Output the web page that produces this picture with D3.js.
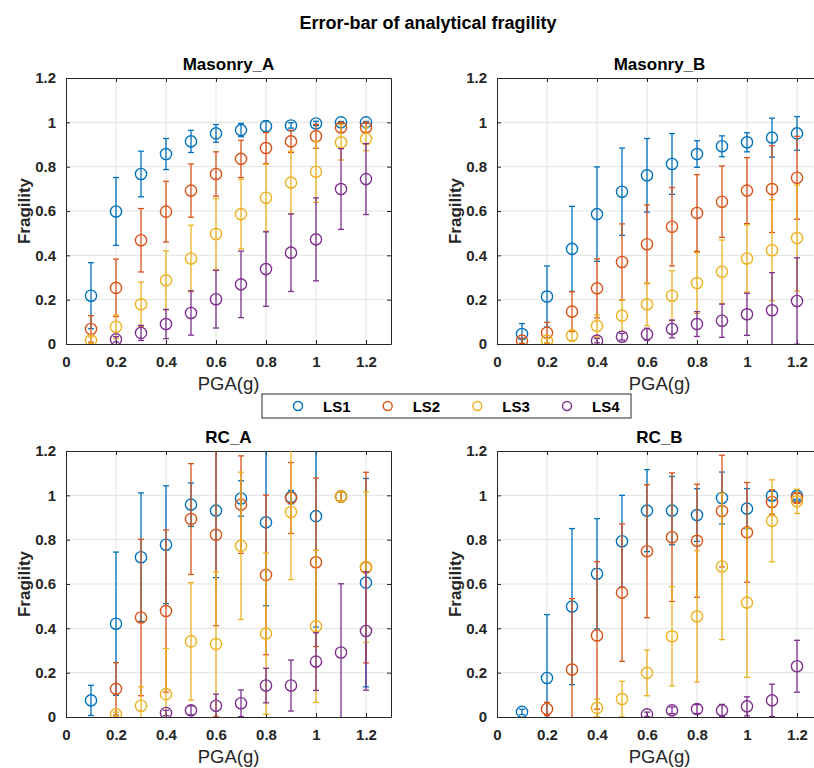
<!DOCTYPE html>
<html>
<head>
<meta charset="utf-8">
<script src="https://cdn.jsdelivr.net/npm/d3@7"></script>
<style>
	body { margin: 0; background: #fff; }
	svg text { font-family: "Liberation Sans", Arial, Helvetica, sans-serif; fill: #000; }
</style>
</head>
<body>
<div id="vis-div"></div>
<script>
'use strict'

// x values (PGA in g)
const pga = [0.1, 0.2, 0.3, 0.4, 0.5, 0.6, 0.7, 0.8, 0.9, 1.0, 1.1, 1.2]
const seriesNames = ["LS1", "LS2", "LS3", "LS4"]
const seriesColors = ["#0072BD", "#D95319", "#EDB120", "#7E2F8E"]
const xTicks = [0, 0.2, 0.4, 0.6, 0.8, 1, 1.2]
const yTicks = [0, 0.2, 0.4, 0.6, 0.8, 1, 1.2]
const panelTitles = ["Masonry_A", "Masonry_B", "RC_A", "RC_B"]

// mean fragility, one row per limit state (LS1..LS4)
const masonryA_mean = [
	[0.218, 0.598, 0.767, 0.857, 0.914, 0.950, 0.965, 0.982, 0.986, 0.995, 1.0, 1.0],
	[0.068, 0.253, 0.468, 0.597, 0.692, 0.767, 0.835, 0.884, 0.914, 0.937, 0.977, 0.977],
	[0.017, 0.078, 0.179, 0.287, 0.386, 0.496, 0.586, 0.660, 0.728, 0.777, 0.910, 0.925],
	[null, 0.021, 0.050, 0.090, 0.140, 0.202, 0.269, 0.338, 0.412, 0.472, 0.699, 0.744]
]
const masonryA_err = [
	[0.149, 0.153, 0.103, 0.070, 0.050, 0.040, 0.030, 0.025, 0.012, 0.010, 0.004, 0.004],
	[0.060, 0.130, 0.143, 0.137, 0.120, 0.100, 0.084, 0.070, 0.050, 0.054, 0.022, 0.022],
	[0.015, 0.053, 0.100, 0.133, 0.150, 0.160, 0.157, 0.151, 0.142, 0.138, 0.080, 0.053],
	[null, 0.012, 0.034, 0.066, 0.100, 0.130, 0.150, 0.168, 0.175, 0.187, 0.182, 0.160]
]

const masonryB_mean = [
	[0.045, 0.214, 0.429, 0.586, 0.687, 0.761, 0.812, 0.857, 0.892, 0.910, 0.931, 0.950],
	[0.015, 0.051, 0.146, 0.251, 0.370, 0.450, 0.529, 0.591, 0.642, 0.692, 0.699, 0.750],
	[null, 0.015, 0.038, 0.081, 0.128, 0.179, 0.218, 0.275, 0.326, 0.386, 0.423, 0.478],
	[null, null, null, 0.015, 0.033, 0.044, 0.068, 0.090, 0.105, 0.134, 0.152, 0.194]
]
const masonryB_err = [
	[0.047, 0.138, 0.192, 0.213, 0.197, 0.166, 0.137, 0.060, 0.047, 0.043, 0.088, 0.076],
	[0.012, 0.047, 0.090, 0.133, 0.172, 0.177, 0.177, 0.173, 0.161, 0.149, 0.196, 0.187],
	[null, 0.010, 0.025, 0.050, 0.071, 0.096, 0.113, 0.137, 0.143, 0.152, 0.228, 0.239],
	[null, null, null, 0.010, 0.015, 0.027, 0.040, 0.056, 0.075, 0.095, 0.170, 0.195]
]

const rcA_mean = [
	[0.075, 0.421, 0.721, 0.777, 0.958, 0.931, 0.986, 0.878, 0.992, 0.906, 0.995, 0.606],
	[null, 0.127, 0.449, 0.478, 0.893, 0.822, 0.958, 0.641, 0.988, 0.698, 0.995, 0.674],
	[null, 0.012, 0.051, 0.103, 0.341, 0.329, 0.772, 0.376, 0.925, 0.409, 0.995, 0.677],
	[null, null, null, 0.018, 0.030, 0.051, 0.062, 0.142, 0.142, 0.250, 0.291, 0.388]
]
const rcA_err = [
	[0.068, 0.323, 0.290, 0.266, 0.098, 0.302, 0.080, 0.376, 0.030, 0.500, 0.020, 0.470],
	[null, 0.118, 0.353, 0.366, 0.250, 0.410, 0.220, 0.360, 0.160, 0.380, 0.020, 0.430],
	[null, 0.010, 0.085, 0.206, 0.265, 0.326, 0.332, 0.364, 0.305, 0.343, 0.020, 0.340],
	[null, null, null, 0.012, 0.020, 0.052, 0.060, 0.078, 0.115, 0.130, 0.310, 0.267]
]

const rcB_mean = [
	[0.023, 0.176, 0.498, 0.646, 0.793, 0.931, 0.931, 0.911, 0.988, 0.940, 0.998, 0.998],
	[null, 0.036, 0.214, 0.368, 0.561, 0.748, 0.811, 0.795, 0.929, 0.833, 0.970, 0.988],
	[null, null, null, 0.041, 0.081, 0.199, 0.364, 0.454, 0.679, 0.516, 0.885, 0.973],
	[null, null, null, null, null, 0.012, 0.030, 0.036, 0.030, 0.048, 0.075, 0.229]
]
const rcB_err = [
	[0.012, 0.286, 0.352, 0.249, 0.207, 0.185, 0.154, 0.119, 0.117, 0.090, 0.020, 0.015],
	[null, 0.030, 0.320, 0.333, 0.310, 0.300, 0.290, 0.255, 0.252, 0.225, 0.055, 0.020],
	[null, null, null, 0.040, 0.080, 0.103, 0.224, 0.296, 0.330, 0.337, 0.185, 0.055],
	[null, null, null, null, null, 0.010, 0.015, 0.020, 0.027, 0.043, 0.073, 0.117]
]

const panelMeans = [masonryA_mean, masonryB_mean, rcA_mean, rcB_mean]
const panelErrs = [masonryA_err, masonryB_err, rcA_err, rcB_err]


function renderPanel(svg, idx, left, top, w, h){
	let axisColor = "#262626"
	let xScale = d3.scaleLinear().domain([0, 1.3]).range([left, left + w])
	let yScale = d3.scaleLinear().domain([0, 1.2]).range([top + h, top])

	let g = svg.append("g").attr("class", "panel-" + idx)

	// grid
	g.selectAll(".xgrid").data(xTicks.filter(d => d > 0)).enter().append("line")
		.attr("x1", d => xScale(d)).attr("x2", d => xScale(d))
		.attr("y1", top).attr("y2", top + h)
		.style("stroke", "#e3e3e3").style("stroke-width", 1)
	g.selectAll(".ygrid").data(yTicks.filter(d => d > 0 && d < 1.2)).enter().append("line")
		.attr("x1", left).attr("x2", left + w)
		.attr("y1", d => yScale(d)).attr("y2", d => yScale(d))
		.style("stroke", "#e3e3e3").style("stroke-width", 1)

	// axes, ticks pointing inward on all four sides
	let bottomAxis = d3.axisBottom(xScale).tickValues(xTicks).tickSizeInner(-4).tickSizeOuter(0).tickPadding(12)
		.tickFormat(d => d3.format("~g")(d))
	let leftAxis = d3.axisLeft(yScale).tickValues(yTicks).tickSizeInner(-4).tickSizeOuter(0).tickPadding(10)
		.tickFormat(d => d3.format("~g")(d))

	let xa = g.append("g").attr("transform", "translate(0," + (top + h) + ")").call(bottomAxis)
	let ya = g.append("g").attr("transform", "translate(" + left + ",0)").call(leftAxis)
	let xt = g.append("g").attr("transform", "translate(0," + top + ")")
		.call(d3.axisTop(xScale).tickValues(xTicks).tickSizeInner(-4).tickSizeOuter(0).tickFormat(""))
	let yr = g.append("g").attr("transform", "translate(" + (left + w) + ",0)")
		.call(d3.axisRight(yScale).tickValues(yTicks).tickSizeInner(-4).tickSizeOuter(0).tickFormat(""))

	;[xa, ya, xt, yr].forEach(function(a){
		a.select(".domain").style("stroke", axisColor).style("stroke-width", 1)
		a.selectAll(".tick line").style("stroke", axisColor)
		a.selectAll("text").style("font-size", "15px").style("font-weight", "bold")
			.style("fill", "#262626")
			.style("font-family", '"Liberation Sans", Arial, sans-serif')
	})

	// clip the error bars to the axes box
	let clipId = "clip" + idx
	svg.append("clipPath").attr("id", clipId).append("rect")
		.attr("x", left).attr("y", top).attr("width", w).attr("height", h)

	let dataG = g.append("g").attr("clip-path", "url(#" + clipId + ")")
	let means = panelMeans[idx]
	let errs = panelErrs[idx]

	seriesNames.forEach(function(name, s){
		let pts = pga.map(function(x, i){
			return {x: x, m: means[s][i], e: errs[s][i]}
		}).filter(d => d.m !== null)

		let sg = dataG.append("g").attr("class", "series " + name)
			.style("stroke", seriesColors[s]).style("fill", "none")

		sg.selectAll(".ebar").data(pts).enter().append("line")
			.attr("x1", d => xScale(d.x)).attr("x2", d => xScale(d.x))
			.attr("y1", d => yScale(d.m - d.e)).attr("y2", d => yScale(d.m + d.e))
			.style("stroke-width", 1.3)
		sg.selectAll(".capT").data(pts).enter().append("line")
			.attr("x1", d => xScale(d.x) - 3).attr("x2", d => xScale(d.x) + 3)
			.attr("y1", d => yScale(d.m + d.e)).attr("y2", d => yScale(d.m + d.e))
			.style("stroke-width", 1.3)
		sg.selectAll(".capB").data(pts).enter().append("line")
			.attr("x1", d => xScale(d.x) - 3).attr("x2", d => xScale(d.x) + 3)
			.attr("y1", d => yScale(d.m - d.e)).attr("y2", d => yScale(d.m - d.e))
			.style("stroke-width", 1.3)
		sg.selectAll("circle").data(pts).enter().append("circle")
			.attr("cx", d => xScale(d.x)).attr("cy", d => yScale(d.m))
			.attr("r", 5.6)
			.style("stroke-width", 1.4)
	})

	// titles and labels
	g.append("text").attr("x", left + w / 2).attr("y", top - 8)
		.attr("text-anchor", "middle").style("font-size", "17px").style("font-weight", "bold")
		.text(panelTitles[idx])
	g.append("text").attr("x", left + w / 2).attr("y", top + h + 46)
		.attr("text-anchor", "middle").style("font-size", "18.5px").style("fill", "#262626")
		.text("PGA(g)")
	g.append("text")
		.attr("transform", "translate(" + (left - 36) + "," + (top + h / 2) + ") rotate(-90)")
		.attr("text-anchor", "middle").style("font-size", "17px").style("font-weight", "bold")
		.style("fill", "#262626")
		.text("Fragility")
}


function renderLegend(svg){
	let lg = svg.append("g").attr("class", "legend")
	lg.append("rect").attr("x", 262).attr("y", 394).attr("width", 369).attr("height", 24)
		.style("fill", "#fff").style("stroke", "#262626").style("stroke-width", 1)
	let itemX = d3.scalePoint().domain(seriesNames).range([298, 567])
	let items = lg.selectAll(".item").data(seriesNames).enter().append("g")
	items.append("circle").attr("cx", d => itemX(d)).attr("cy", 406).attr("r", 4.5)
		.style("fill", "none").style("stroke", (d, i) => seriesColors[i]).style("stroke-width", 1.4)
	items.append("text").attr("x", d => itemX(d) + 25).attr("y", 411.5)
		.style("font-size", "15px").style("font-weight", "bold")
		.text(d => d)
}


function wrapper(){
	let width = 814
	let height = 768
	let svg = d3.select("#vis-div").append("svg")
		.attr("width", width).attr("height", height)

	svg.append("text").attr("x", 428).attr("y", 29)
		.attr("text-anchor", "middle").style("font-size", "18px").style("font-weight", "bold")
		.text("Error-bar of analytical fragility")

	let pw = 325, ph = 266
	renderPanel(svg, 0, 66, 78, pw, ph)
	renderPanel(svg, 1, 497, 78, pw, ph)
	renderPanel(svg, 2, 66, 451, pw, ph)
	renderPanel(svg, 3, 497, 451, pw, ph)

	renderLegend(svg)
}

wrapper();
</script>
</body>
</html>
